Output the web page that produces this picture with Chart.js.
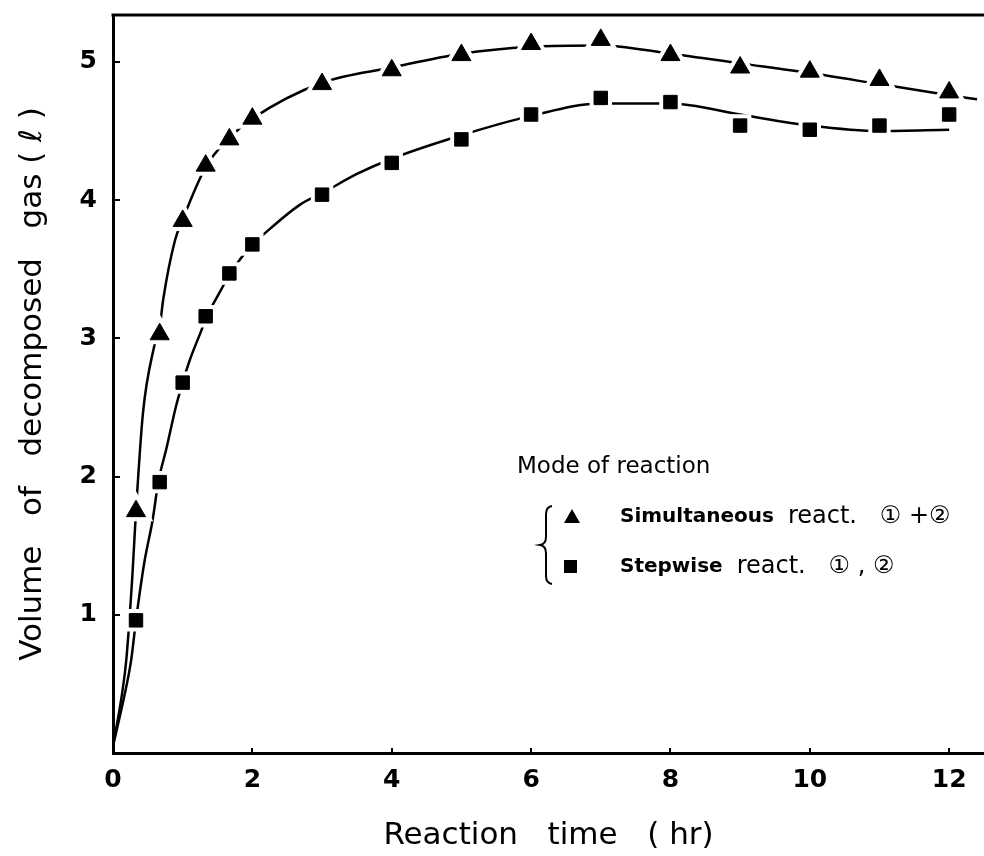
<!DOCTYPE html>
<html>
<head>
<meta charset="utf-8">
<script src="https://cdn.jsdelivr.net/npm/chart.js@4.4.0/dist/chart.umd.min.js"></script>
<style>
  html, body { margin: 0; padding: 0; background: #fff; }
  canvas { display: block; }
</style>
</head>
<body>
<canvas id="gas_chart" width="984" height="856"></canvas>
<script>
// Measured points (reaction time in hr, volume in litres)
const timeHr = [0.33, 0.67, 1, 1.33, 1.67, 2, 3, 4, 5, 6, 7, 8, 9, 10, 11, 12];
const simultaneousVol = [1.75, 3.03, 3.85, 4.25, 4.44, 4.59, 4.84, 4.94, 5.05, 5.13, 5.16, 5.05, 4.96, 4.93, 4.87, 4.78];
const stepwiseVol = [0.96, 1.96, 2.68, 3.16, 3.47, 3.68, 4.04, 4.27, 4.44, 4.62, 4.74, 4.71, 4.54, 4.51, 4.54, 4.62];

// Hand-drawn fit curves
const simultaneousFitX = [0, 0.13, 0.19, 0.28, 0.33, 0.43, 0.59, 0.67, 0.72, 0.89, 1, 1.33, 1.67, 2, 3, 4, 5, 6, 7, 8, 9, 10, 11, 12, 12.4];
const simultaneousFitY = [0.05, 0.43, 0.67, 1.3, 1.75, 2.46, 2.94, 3.08, 3.28, 3.71, 3.86, 4.24, 4.45, 4.59, 4.85, 4.96, 5.06, 5.11, 5.12, 5.06, 4.99, 4.92, 4.84, 4.76, 4.73];
const stepwiseFitX = [0, 0.17, 0.26, 0.33, 0.45, 0.57, 0.65, 0.77, 0.9, 1, 1.1, 1.27, 1.33, 1.56, 1.67, 2, 2.11, 2.69, 3, 3.5, 4, 5, 6, 7, 8, 9, 10, 11, 12];
const stepwiseFitY = [0.05, 0.43, 0.67, 0.96, 1.38, 1.69, 1.96, 2.21, 2.5, 2.68, 2.84, 3.06, 3.14, 3.36, 3.46, 3.68, 3.73, 3.97, 4.05, 4.19, 4.3, 4.47, 4.61, 4.7, 4.7, 4.62, 4.54, 4.5, 4.51];

const xTickValues = [0, 2, 4, 6, 8, 10, 12];
const yTickValues = [1, 2, 3, 4, 5];

const xTitle = "Reaction   time   ( hr)";
const yTitle = "Volume   of   decomposed   gas ( \u2113 )";
const legendTitle = "Mode of reaction";
const seriesNames = ["Simultaneous", "Stepwise"];
const seriesNotes = ["react.   \u2460 +\u2461", "react.   \u2460 , \u2461"];
const seriesStyles = ["triangle", "rect"];

const FONT = "'DejaVu Sans', 'Noto Sans CJK JP', sans-serif";
Chart.defaults.font.family = FONT;
Chart.defaults.color = "#000";

function xy(xs, ys) {
    return xs.map((x, i) => ({ x: x, y: ys[i] }));
}

// markers: black shape with a white halo underneath so the curve breaks at each point
function markerSets(label, ys, style, radius) {
    const pts = xy(timeHr, ys);
    return [
        {
            label: label, data: pts, showLine: false, order: 0,
            pointStyle: style, pointRadius: radius,
            pointBackgroundColor: "#000", pointBorderColor: "#000", pointBorderWidth: 1
        },
        {
            label: label + " halo", data: pts, showLine: false, order: 1,
            pointStyle: style, pointRadius: radius,
            pointBackgroundColor: "#fff", pointBorderColor: "#fff", pointBorderWidth: 9
        }
    ];
}

function curveSet(label, xs, ys) {
    return {
        label: label, data: xy(xs, ys), order: 2,
        borderColor: "#000", borderWidth: 2.5, pointRadius: 0,
        cubicInterpolationMode: "monotone", fill: false
    };
}

// top frame line and the hand-lettered legend
const framePlugin = {
    id: "frame",
    afterDraw(chart) {
        const ctx = chart.ctx;
        const a = chart.chartArea;
        ctx.save();
        ctx.strokeStyle = "#000";
        ctx.lineWidth = 3;
        ctx.beginPath();
        ctx.moveTo(a.left - 1.5, a.top);
        ctx.lineTo(a.right, a.top);
        ctx.stroke();

        ctx.fillStyle = "#000";
        ctx.textBaseline = "middle";
        ctx.textAlign = "left";
        ctx.font = "23px " + FONT;
        ctx.fillText(legendTitle, 517, 467);

        // brace
        ctx.lineWidth = 2;
        ctx.beginPath();
        ctx.moveTo(552, 506);
        ctx.quadraticCurveTo(546, 507, 546, 514);
        ctx.lineTo(546, 537);
        ctx.quadraticCurveTo(546, 544, 540, 545);
        ctx.quadraticCurveTo(546, 546, 546, 553);
        ctx.lineTo(546, 576);
        ctx.quadraticCurveTo(546, 583, 552, 584);
        ctx.stroke();

        const rowY = [517, 567];
        seriesNames.forEach((name, i) => {
            const y = rowY[i];
            ctx.beginPath();
            if (seriesStyles[i] === "triangle") {
                ctx.moveTo(572, y - 8);
                ctx.lineTo(580, y + 6);
                ctx.lineTo(564, y + 6);
                ctx.closePath();
            } else {
                ctx.rect(564, y - 7, 13, 13);
            }
            ctx.fill();

            ctx.font = "bold 20px " + FONT;
            ctx.fillText(name, 620, y);
            const w = ctx.measureText(name).width;
            ctx.font = "24px " + FONT;
            ctx.fillText(seriesNotes[i], 620 + w + 14, y);
        });
        ctx.restore();
    }
};

const ctx = document.getElementById("gas_chart").getContext("2d");
new Chart(ctx, {
    type: "line",
    data: {
        datasets: [
            ...markerSets(seriesNames[0], simultaneousVol, "triangle", 11),
            ...markerSets(seriesNames[1], stepwiseVol, "rect", 9.5),
            curveSet(seriesNames[0] + " fit", simultaneousFitX, simultaneousFitY),
            curveSet(seriesNames[1] + " fit", stepwiseFitX, stepwiseFitY)
        ]
    },
    options: {
        responsive: false,
        animation: false,
        layout: { autoPadding: false, padding: { top: 15, right: 0, left: 0, bottom: 0 } },
        plugins: { legend: { display: false }, tooltip: { enabled: false } },
        scales: {
            x: {
                type: "linear", min: 0, max: 12.5,
                afterFit(s) { s.height = 103; s.paddingLeft = 0; s.paddingRight = 0; },
                afterBuildTicks(s) { s.ticks = xTickValues.map(v => ({ value: v })); },
                grid: { drawOnChartArea: false, color: "#000", lineWidth: 2, tickLength: -5 },
                border: { color: "#000", width: 3 },
                ticks: { color: "#000", padding: 17, maxRotation: 0, autoSkip: false, font: { size: 25, weight: "bold" } },
                title: { display: true, text: xTitle, color: "#000", font: { size: 31 }, padding: { top: 0, bottom: 1 } }
            },
            y: {
                type: "linear", min: 0, max: 5.34,
                // fixed axis width; drop the label overhang padding so the plot reaches the top frame
                afterFit(s) { s.width = 113; s.paddingTop = 0; s.paddingBottom = 0; },
                afterBuildTicks(s) { s.ticks = yTickValues.map(v => ({ value: v })); },
                grid: { drawOnChartArea: false, color: "#000", lineWidth: 2, tickLength: -7 },
                border: { color: "#000", width: 3 },
                ticks: { color: "#000", padding: 23, font: { size: 25, weight: "bold" } },
                title: { display: true, text: yTitle, color: "#000", font: { size: 31 }, padding: { top: 14, bottom: 0 } }
            }
        }
    },
    plugins: [framePlugin]
});
</script>
</body>
</html>
